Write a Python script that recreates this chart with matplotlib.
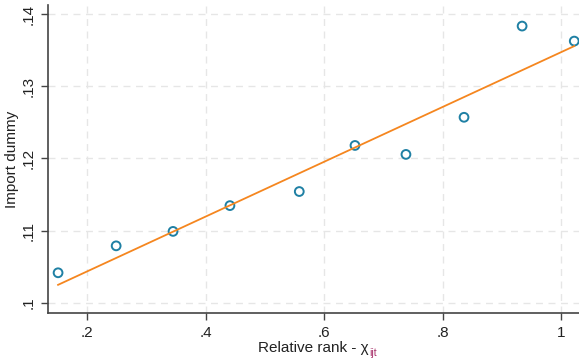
import matplotlib.pyplot as plt

plt.rcParams['font.family'] = ['Liberation Sans', 'DejaVu Sans']

# binned means of the import dummy by relative rank
rank_bins = [0.151, 0.249, 0.345, 0.441, 0.558, 0.652, 0.738, 0.836, 0.934, 1.022]
import_share = [0.10417, 0.1079, 0.1099, 0.11347, 0.11542, 0.1218, 0.12056, 0.1257, 0.13833, 0.13625]

# linear fit endpoints
fit_x = [0.151, 1.022]
fit_y = [0.1025, 0.13556]

xticks = [0.2, 0.4, 0.6, 0.8, 1.0]
xtick_labels = [".2", ".4", ".6", ".8", "1"]
yticks = [0.10, 0.11, 0.12, 0.13, 0.14]
ytick_labels = [".1", ".11", ".12", ".13", ".14"]

fig = plt.figure(figsize=(5.79, 3.64), dpi=100)
ax = fig.add_axes([0.0829, 0.1401, 0.9171, 0.8462])

ax.scatter(rank_bins, import_share, s=40, facecolors="none", edgecolors="#1f80a4",
           linewidths=1.4, zorder=3)
ax.plot(fit_x, fit_y, color="#f5861f", linewidth=1.3, zorder=4)

ax.set_xlim(0.134, 1.030)
ax.set_ylim(0.0986, 0.14125)
ax.set_xticks(xticks)
ax.set_xticklabels(xtick_labels)
ax.set_yticks(yticks)
ax.set_yticklabels(ytick_labels, rotation=90, va="center")

ax.grid(True, color="#e6e6e6", linestyle=(0, (5, 4)), linewidth=1.0)
ax.set_axisbelow(True)
for side in ["top", "right"]:
    ax.spines[side].set_visible(False)
for side in ["left", "bottom"]:
    ax.spines[side].set_color("#444444")
    ax.spines[side].set_linewidth(1.2)
ax.tick_params(axis="both", length=5, width=1.0, color="#444444", labelsize=11,
               labelcolor="#222222", pad=4)

ax.set_ylabel("Import dummy", fontsize=11, color="#222222")
ax.yaxis.set_label_coords(-0.054, 0.5)

# x label with a coloured subscript
fig.text(0.636, 0.033, "Relative rank - χ", ha="right", va="baseline",
         fontsize=11, color="#222222")
fig.text(0.637, 0.022, "ijt", ha="left", va="baseline", fontsize=7.5, color="#a8306a")

fig.savefig("out.png", dpi=100)
